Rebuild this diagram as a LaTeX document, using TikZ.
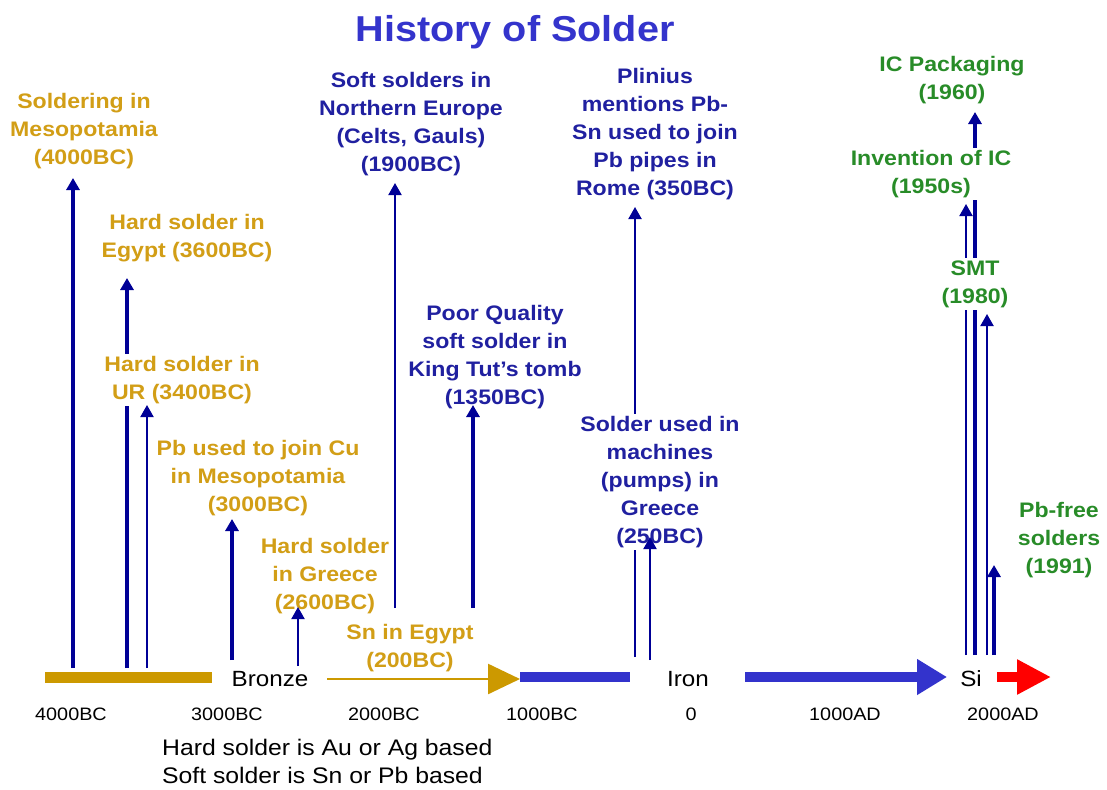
\documentclass[tikz,border=0pt]{standalone}
\usepackage{fontspec}
\setmainfont{Liberation Sans}[FakeStretch=1.1]
\usetikzlibrary{arrows.meta}

\definecolor{soldergold}{RGB}{210,158,22}
\definecolor{goldbar}{RGB}{204,153,0}
\definecolor{labelblue}{RGB}{32,32,160}
\definecolor{titleblue}{RGB}{52,52,204}
\definecolor{barblue}{RGB}{51,51,204}
\definecolor{arrownavy}{RGB}{0,0,150}
\definecolor{labelgreen}{RGB}{40,140,40}

\begin{document}
\begin{tikzpicture}[x=1pt,y=-1pt]
            \tikzstyle{eventtext} = [align=center, font=\fontsize{21}{28}\selectfont\bfseries, inner sep=2pt, fill=white]
            \tikzstyle{goldtext} = [eventtext, text=soldergold]
            \tikzstyle{bluetext} = [eventtext, text=labelblue]
            \tikzstyle{greentext} = [eventtext, text=labelgreen]
            \tikzstyle{thinarrow} = [draw=arrownavy, line width=2pt, -{Triangle[length=12pt,width=13pt]}]
            \tikzstyle{thickarrow} = [thinarrow, line width=3.4pt]
            \tikzstyle{ticktext} = [anchor=base, inner sep=0pt, font=\fontsize{18}{20}\selectfont]
            \tikzstyle{eratext} = [anchor=base, inner sep=0pt, font=\fontsize{22}{24}\selectfont]
            \useasboundingbox (0,0) rectangle (1107,789);
            \node[anchor=base, inner sep=0pt, text=titleblue, font=\fontsize{36}{40}\selectfont\bfseries] (title) at (515,42) {History of Solder};
            % timeline
            \coordinate (goldstart) at (45,677);
            \coordinate (goldend) at (212,677);
            \coordinate (bronzestart) at (327,679);
            \coordinate (bronzeend) at (520,679);
            \coordinate (ironstart) at (520,677);
            \coordinate (ironend) at (630,677);
            \coordinate (midstart) at (745,677);
            \coordinate (midend) at (947,677);
            \coordinate (sistart) at (997,677);
            \coordinate (siend) at (1051,677);
            \draw[goldbar, line width=11pt] (goldstart) -- (goldend);
            \draw[goldbar, line width=2.5pt, -{Triangle[length=32pt,width=30pt]}] (bronzestart) -- (bronzeend);
            \draw[barblue, line width=10pt] (ironstart) -- (ironend);
            \draw[barblue, line width=10pt, -{Triangle[length=30pt,width=34pt]}] (midstart) -- (midend);
            \draw[red, line width=10pt, -{Triangle[length=34pt,width=33pt]}] (sistart) -- (siend);
            \node[eratext] (bronze) at (270,686) {Bronze};
            \node[eratext] (iron) at (688,686) {Iron};
            \node[eratext] (si) at (971,686) {Si};
            \node[ticktext] (y4000bc) at (71,720) {4000BC};
            \node[ticktext] (y3000bc) at (227,720) {3000BC};
            \node[ticktext] (y2000bc) at (384,720) {2000BC};
            \node[ticktext] (y1000bc) at (542,720) {1000BC};
            \node[ticktext] (y0) at (691,720) {0};
            \node[ticktext] (y1000ad) at (845,720) {1000AD};
            \node[ticktext] (y2000ad) at (1003,720) {2000AD};
            \node[anchor=north west, inner sep=0pt, align=left, font=\fontsize{22.5}{28}\selectfont] (note) at (162,739) {Hard solder is Au or Ag based\\Soft solder is Sn or Pb based};
            % arrow ends
            \coordinate (b4000) at (73,668);   \coordinate (t4000) at (73,178);
            \coordinate (b3600) at (127,668);  \coordinate (t3600) at (127,278);
            \coordinate (b3400) at (147,668);  \coordinate (t3400) at (147,405);
            \coordinate (b3000) at (232,660);  \coordinate (t3000) at (232,519);
            \coordinate (b2600) at (298,666);  \coordinate (t2600) at (298,607);
            \coordinate (b1900) at (395,608);  \coordinate (t1900) at (395,183);
            \coordinate (b1350) at (473,608);  \coordinate (t1350) at (473,405);
            \coordinate (b350) at (635,657);   \coordinate (t350) at (635,207);
            \coordinate (b250) at (650,660);   \coordinate (t250) at (650,537);
            \coordinate (b1960) at (975,655);  \coordinate (t1960) at (975,112);
            \coordinate (b1950) at (966,655);  \coordinate (t1950) at (966,204);
            \coordinate (bsmt) at (987,655);   \coordinate (tsmt) at (987,314);
            \coordinate (b1991) at (994,655);  \coordinate (t1991) at (994,565);
            % arrows that run behind other labels
            \draw[thickarrow] (b3600) -- (t3600);
            \draw[thinarrow] (b350) -- (t350);
            \draw[thinarrow] (b1950) -- (t1950);
            \draw[thickarrow] (b1960) -- (t1960);
            % events
            \node[goldtext] (soldering) at (84,131) {Soldering in\\Mesopotamia\\(4000BC)};
            \node[goldtext] (hardegypt) at (187,238) {Hard solder in\\Egypt (3600BC)};
            \node[goldtext] (hardur) at (182,380) {Hard solder in\\UR (3400BC)};
            \node[goldtext] (pbcu) at (258,478) {Pb used to join Cu\\in Mesopotamia\\(3000BC)};
            \node[goldtext] (hardgreece) at (325,576) {Hard solder\\in Greece\\(2600BC)};
            \node[goldtext] (snegypt) at (410,648) {Sn in Egypt\\(200BC)};
            \node[bluetext] (softeurope) at (411,124) {Soft solders in\\Northern Europe\\(Celts, Gauls)\\(1900BC)};
            \node[bluetext] (kingtut) at (495,357) {Poor Quality\\soft solder in\\King Tut’s tomb\\(1350BC)};
            \node[bluetext] (plinius) at (655,134) {Plinius\\mentions Pb-\\Sn used to join\\Pb pipes in\\Rome (350BC)};
            \node[bluetext] (pumps) at (660,482) {Solder used in\\machines\\(pumps) in\\Greece\\(250BC)};
            \node[greentext] (icpack) at (952,80) {IC Packaging\\(1960)};
            \node[greentext] (icinvent) at (931,174) {Invention of IC\\(1950s)};
            \node[greentext] (smt) at (975,284) {SMT\\(1980)};
            \node[greentext] (pbfree) at (1059,540) {Pb-free\\solders\\(1991)};
            \draw[thickarrow] (b4000) -- (t4000);
            \draw[thinarrow] (b3400) -- (t3400);
            \draw[thickarrow] (b3000) -- (t3000);
            \draw[thinarrow] (b2600) -- (t2600);
            \draw[thinarrow] (b1900) -- (t1900);
            \draw[thickarrow] (b1350) -- (t1350);
            \draw[thinarrow] (b250) -- (t250);
            \draw[thinarrow] (bsmt) -- (tsmt);
            \draw[thickarrow] (b1991) -- (t1991);
        \end{tikzpicture}
\end{document}
